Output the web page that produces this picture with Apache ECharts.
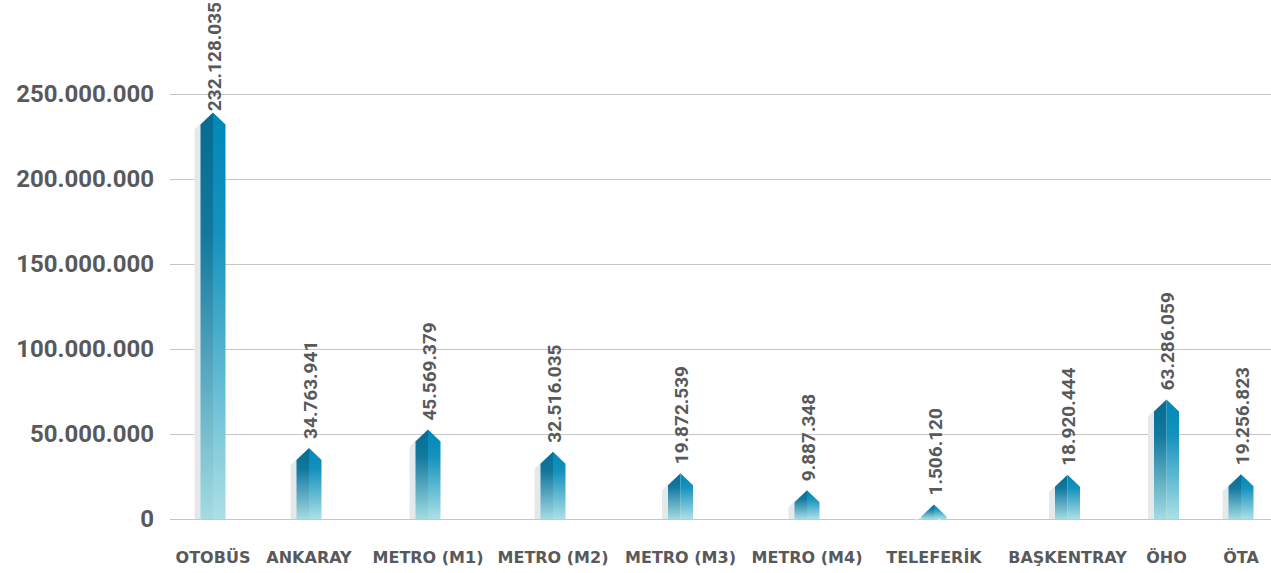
<!DOCTYPE html>
<html>
<head>
<meta charset="utf-8">
<script src="https://cdn.jsdelivr.net/npm/echarts@6/dist/echarts.min.js"></script>
<style>
html,body{margin:0;padding:0;background:#fff;}
#chart{width:1271px;height:573px;}
</style>
</head>
<body>
<div id="chart"></div>
<script>
// ---- data ----
const categories = ['OTOBÜS', 'ANKARAY', 'METRO (M1)', 'METRO (M2)', 'METRO (M3)', 'METRO (M4)', 'TELEFERİK', 'BAŞKENTRAY', 'ÖHO', 'ÖTA'];
const values = [232128035, 34763941, 45569379, 32516035, 19872539, 9887348, 1506120, 18920444, 63286059, 19256823];
const yTicks = [0, 50000000, 100000000, 150000000, 200000000, 250000000];

// ---- layout (horizontal placement of each category, in axis units) ----
const xPositions = [43, 139, 258, 383, 510.5, 637, 764, 897.5, 996.5, 1071];

function fmt(n) {
  return String(Math.round(n)).replace(/\B(?=(\d{3})+(?!\d))/g, '.');
}

const LABEL_FONT = 'bold 19px Roboto';
const measureCtx = document.createElement('canvas').getContext('2d');
measureCtx.font = LABEL_FONT;

const chart = echarts.init(document.getElementById('chart'), null, {renderer: 'svg'});

const leftGrad = {type: 'linear', x: 0, y: 0, x2: 0, y2: 1, colorStops: [
  {offset: 0, color: '#066b91'}, {offset: 0.3, color: '#12789e'}, {offset: 1, color: '#a3dbe2'}]};
const rightGrad = {type: 'linear', x: 0, y: 0, x2: 0, y2: 1, colorStops: [
  {offset: 0, color: '#0088b8'}, {offset: 0.3, color: '#1492be'}, {offset: 1, color: '#ace0e6'}]};

chart.setOption({
  backgroundColor: '#ffffff',
  animation: false,
  grid: {left: 170, right: 0, top: 94, bottom: 54, containLabel: false},
  xAxis: {
    type: 'value', min: 0, max: 1101,
    splitLine: {show: false},
    axisLine: {show: false},
    axisTick: {show: false},
    axisLabel: {
      customValues: xPositions,
      formatter: function (v) {
        const i = xPositions.indexOf(v);
        return i >= 0 ? categories[i] : '';
      },
      margin: 30,
      color: '#58595b',
      fontFamily: 'DejaVu Sans',
      fontWeight: 'bold',
      fontSize: 16
    }
  },
  yAxis: {
    type: 'value', min: 0, max: 250000000, interval: 50000000,
    axisLine: {show: false},
    axisTick: {show: false},
    splitLine: {lineStyle: {color: '#c6c6c6', width: 1}},
    axisLabel: {
      customValues: yTicks,
      formatter: fmt,
      margin: 16,
      color: '#58595b',
      fontFamily: 'Roboto',
      fontWeight: 'bold',
      fontSize: 24
    }
  },
  series: [{
    type: 'custom',
    clip: false,
    data: values.map(function (v, i) { return [xPositions[i], v]; }),
    renderItem: function (params, api) {
      const x = api.value(0), v = api.value(1);
      const top = api.coord([x, v]);
      const base = api.coord([x, 0]);
      const hw = 12.5, tip = 12, sx = 6, sdy = 5;
      const cx = top[0], sy = top[1], by = base[1];
      const ty = sy - tip;
      const txt = fmt(v);
      const len = measureCtx.measureText(txt).width;
      const ly = Math.max(ty - 9, len + 2);
      return {
        type: 'group',
        children: [
          {type: 'polygon', shape: {points: [[cx - hw - sx, by], [cx - hw - sx, sy + sdy], [cx - sx, ty + sdy], [cx + hw - sx, sy + sdy], [cx + hw - sx, by]]},
            style: {fill: '#e6e9ec'}},
          {type: 'polygon', shape: {points: [[cx - hw, by], [cx - hw, sy], [cx, ty], [cx, by]]},
            style: {fill: leftGrad}},
          {type: 'polygon', shape: {points: [[cx, by], [cx, ty], [cx + hw, sy], [cx + hw, by]]},
            style: {fill: rightGrad}},
          {type: 'text', x: cx + 1, y: ly, rotation: Math.PI / 2,
            style: {text: txt, font: LABEL_FONT, fill: '#58595b', align: 'left', verticalAlign: 'middle'}}
        ]
      };
    }
  }]
});
</script>
</body>
</html>
